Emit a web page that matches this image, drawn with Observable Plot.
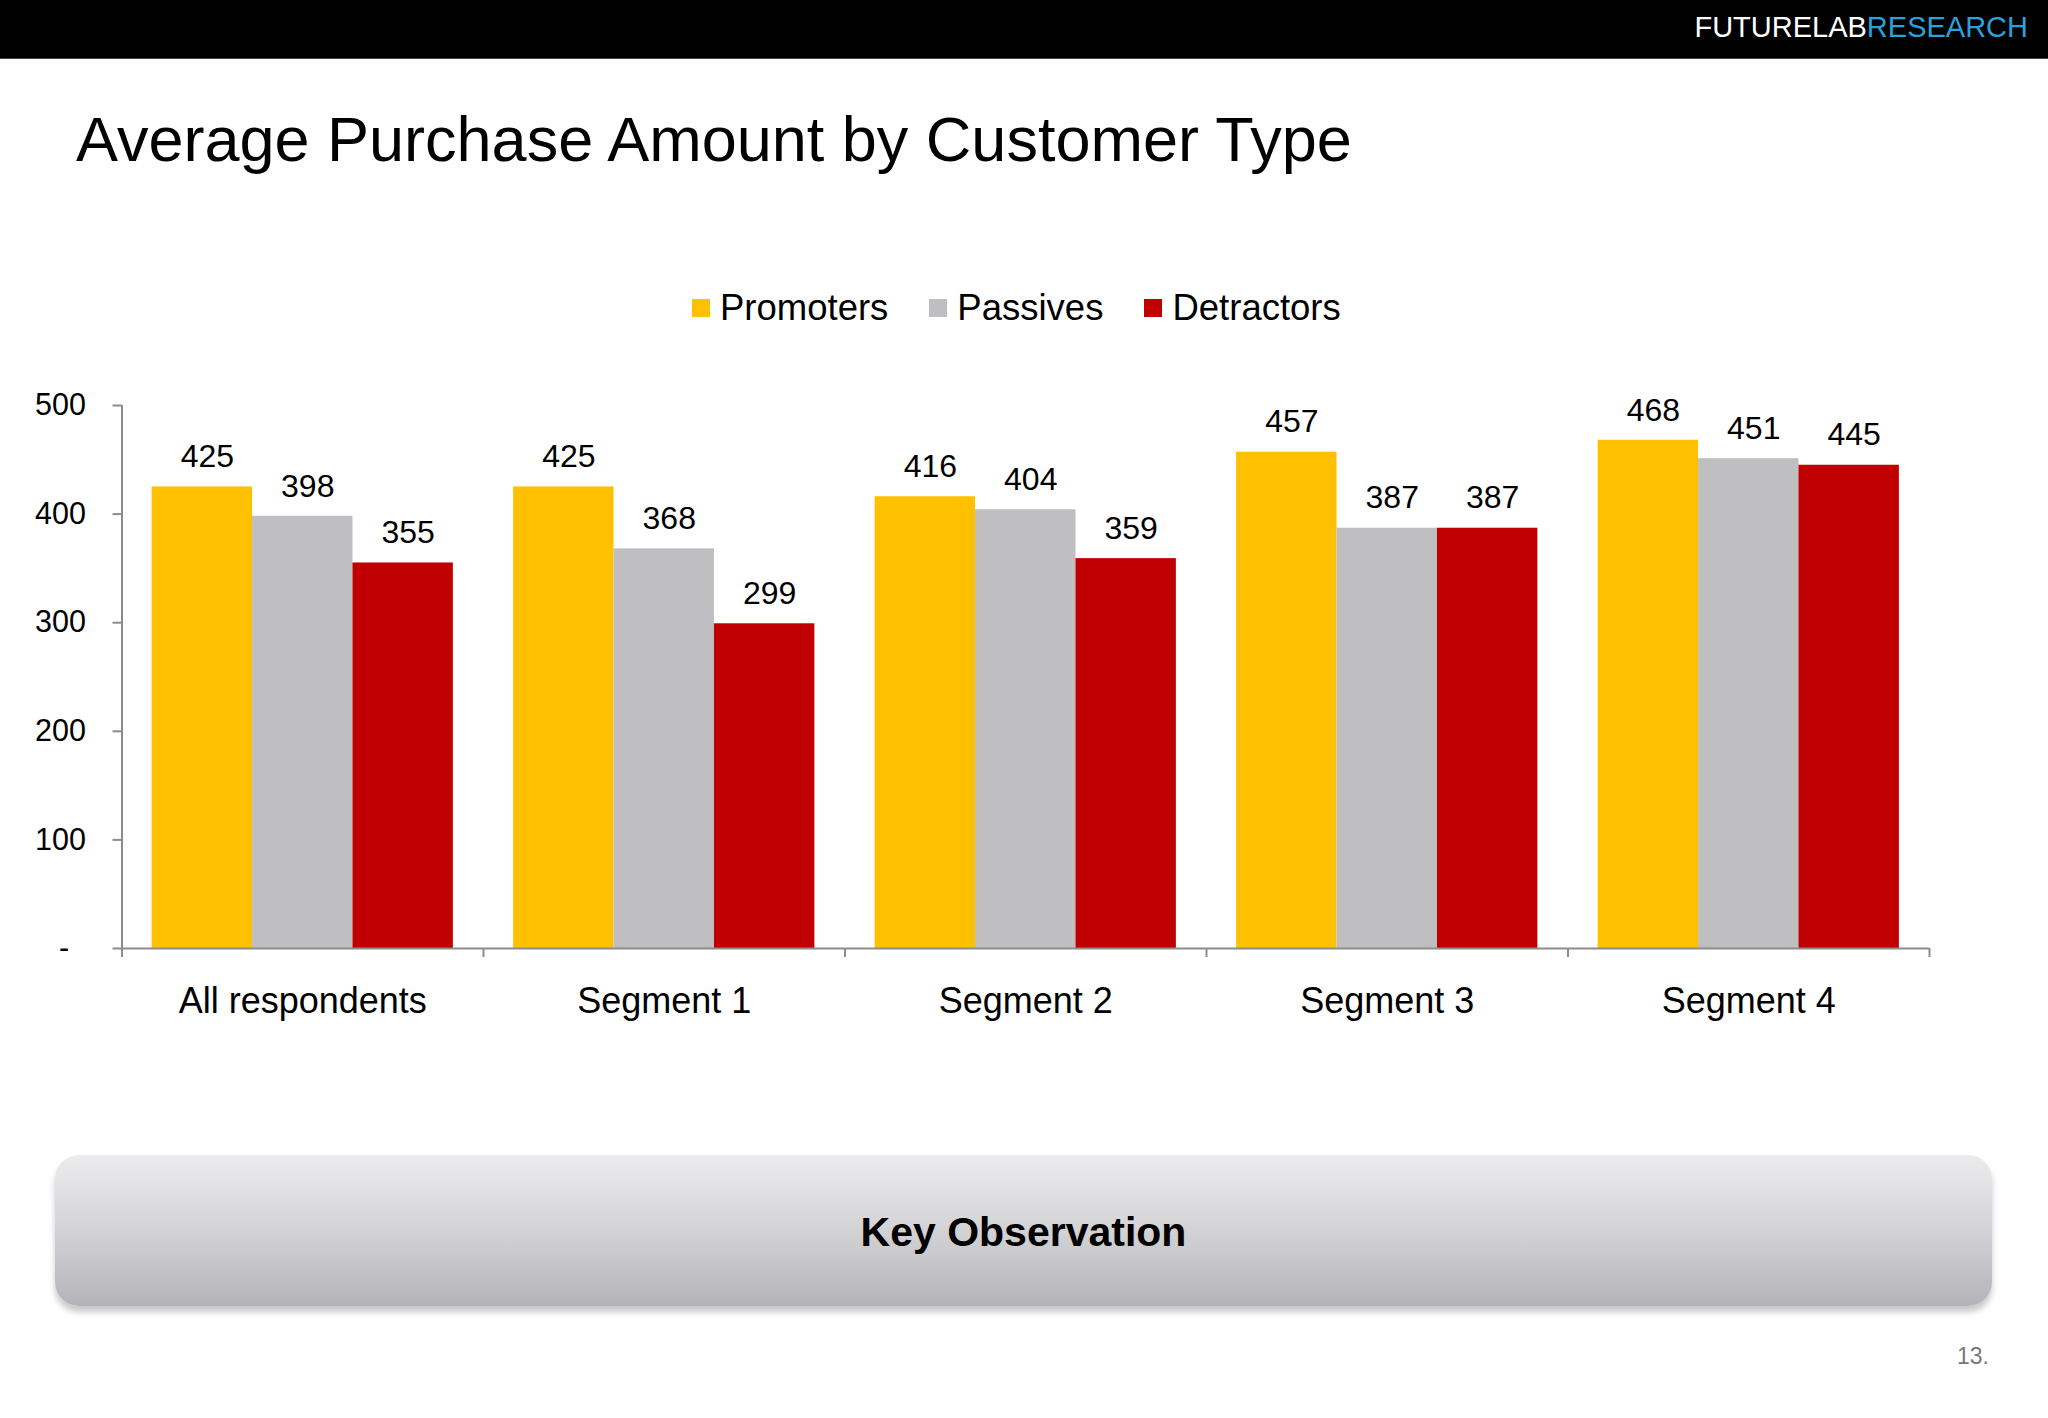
<!DOCTYPE html>
<html>
<head>
<meta charset="utf-8">
<script src="https://cdn.jsdelivr.net/npm/d3@7"></script>
<script src="https://cdn.jsdelivr.net/npm/@observablehq/plot@0.6"></script>
<style>
  html, body { margin: 0; padding: 0; background: #fff; }
  body { width: 2048px; height: 1418px; position: relative; overflow: hidden; font-family: "Liberation Sans", Arial, sans-serif; }
  .header { position: absolute; left: 0; top: 0; width: 2048px; height: 58px; background: #000; border-bottom: 1px solid #444; }
  .brand { position: absolute; right: 20px; top: 13px; font-size: 29px; line-height: 1; color: #fff; letter-spacing: 0; }
  .brand span { color: #2AA1DA; }
  .title { position: absolute; left: 76px; top: 108px; font-size: 63px; line-height: 1; color: #000; white-space: nowrap; }
  .legend { position: absolute; left: 692px; top: 288px; display: flex; align-items: center; font-size: 36.5px; line-height: 40px; color: #000; }
  .legend .item { display: flex; align-items: center; margin-right: 41px; }
  .legend .sw { width: 18px; height: 18px; margin-right: 10px; }
  #chart { position: absolute; left: 0; top: 350px; }
  .box { position: absolute; left: 55px; top: 1155px; width: 1937px; height: 151px; border-radius: 24px;
         background: linear-gradient(#ecebed, #d6d5d8 45%, #b4b3b7); box-shadow: 0 6px 6px rgba(0,0,0,0.22);
         display: flex; align-items: center; justify-content: center; }
  .box div { font-weight: bold; font-size: 41px; color: #000; margin-top: 3px; }
  .page { position: absolute; left: 1957px; top: 1345px; font-size: 23px; line-height: 1; color: #777; }
</style>
</head>
<body>
<div class="header"><div class="brand">FUTURELAB<span>RESEARCH</span></div></div>
<div class="title">Average Purchase Amount by Customer Type</div>
<div class="legend" id="legend"></div>
<div id="chart"></div>
<div class="box"><div>Key Observation</div></div>
<div class="page">13.</div>
<script>
const categories = ["All respondents", "Segment 1", "Segment 2", "Segment 3", "Segment 4"];
const types = ["Promoters", "Passives", "Detractors"];
const colors = ["#FFC000", "#BFBEC0", "#C00000"];
const promoters = [425, 425, 416, 457, 468];
const passives = [398, 368, 404, 387, 451];
const detractors = [355, 299, 359, 387, 445];
const yTicks = [0, 100, 200, 300, 400, 500];

const series = [promoters, passives, detractors];
const data = [];
categories.forEach((c, i) => types.forEach((t, j) => data.push({cat: c, type: t, value: series[j][i]})));

// legend
const lg = document.getElementById("legend");
types.forEach((t, j) => {
  const it = document.createElement("div"); it.className = "item";
  const sw = document.createElement("div"); sw.className = "sw"; sw.style.background = colors[j];
  const tx = document.createElement("span"); tx.textContent = t;
  it.appendChild(sw); it.appendChild(tx); lg.appendChild(it);
});

const W = 2048, ML = 121.5, MR = 119, MT = 55, MB = 80, H = MT + 543 + MB;
const pOuter = 0.3;
const step = (W - ML - MR) / categories.length;
const bw = step / (types.length + 2 * pOuter);
const edge = bw / 2 + pOuter * bw;
const axisColor = "#8c8c8c";

const chart = Plot.plot({
  width: W, height: H,
  marginLeft: ML, marginRight: MR, marginTop: MT, marginBottom: MB,
  style: {fontFamily: "'Liberation Sans', Arial, sans-serif", fontSize: "30px", color: "#000", background: "transparent", overflow: "visible"},
  fx: {domain: categories, padding: 0, round: false, label: null},
  x: {domain: types, paddingInner: 0, paddingOuter: pOuter, round: false, axis: null},
  y: {domain: [0, 500], label: null},
  color: {domain: types, range: colors},
  marks: [
    Plot.barY(data, {fx: "cat", x: "type", y: "value", fill: "type"}),
    Plot.ruleY([0], {stroke: axisColor, strokeWidth: 2}),
    Plot.ruleX([categories[0]], {fx: d => d, x: () => types[0], dx: -edge, y1: () => yTicks[yTicks.length - 1], y2: () => 0, insetBottom: -9, stroke: axisColor, strokeWidth: 2}),
    Plot.ruleX(categories, {fx: d => d, x: () => types[0], dx: -edge, y1: () => 0, y2: () => 0, insetBottom: -9, stroke: axisColor, strokeWidth: 2}),
    Plot.ruleX([categories[categories.length - 1]], {fx: d => d, x: () => types[types.length - 1], dx: edge, y1: () => 0, y2: () => 0, insetBottom: -9, stroke: axisColor, strokeWidth: 2}),
    Plot.text(data, {fx: "cat", x: "type", y: "value", text: d => String(d.value), dx: 5, dy: -30, fontSize: 32, fill: "#000"}),
    Plot.axisY({ticks: yTicks, tickSize: 9, tickPadding: 27, fontSize: 30.5, stroke: axisColor, strokeWidth: 2, fill: "#000", label: null,
                tickFormat: d => d === 0 ? "-\u2007" : String(d)}),
    Plot.axisFx({anchor: "bottom", tickSize: 0, tickPadding: 39, fontSize: 36, fill: "#000", label: null})
  ]
});
document.getElementById("chart").appendChild(chart);
</script>
</body>
</html>
